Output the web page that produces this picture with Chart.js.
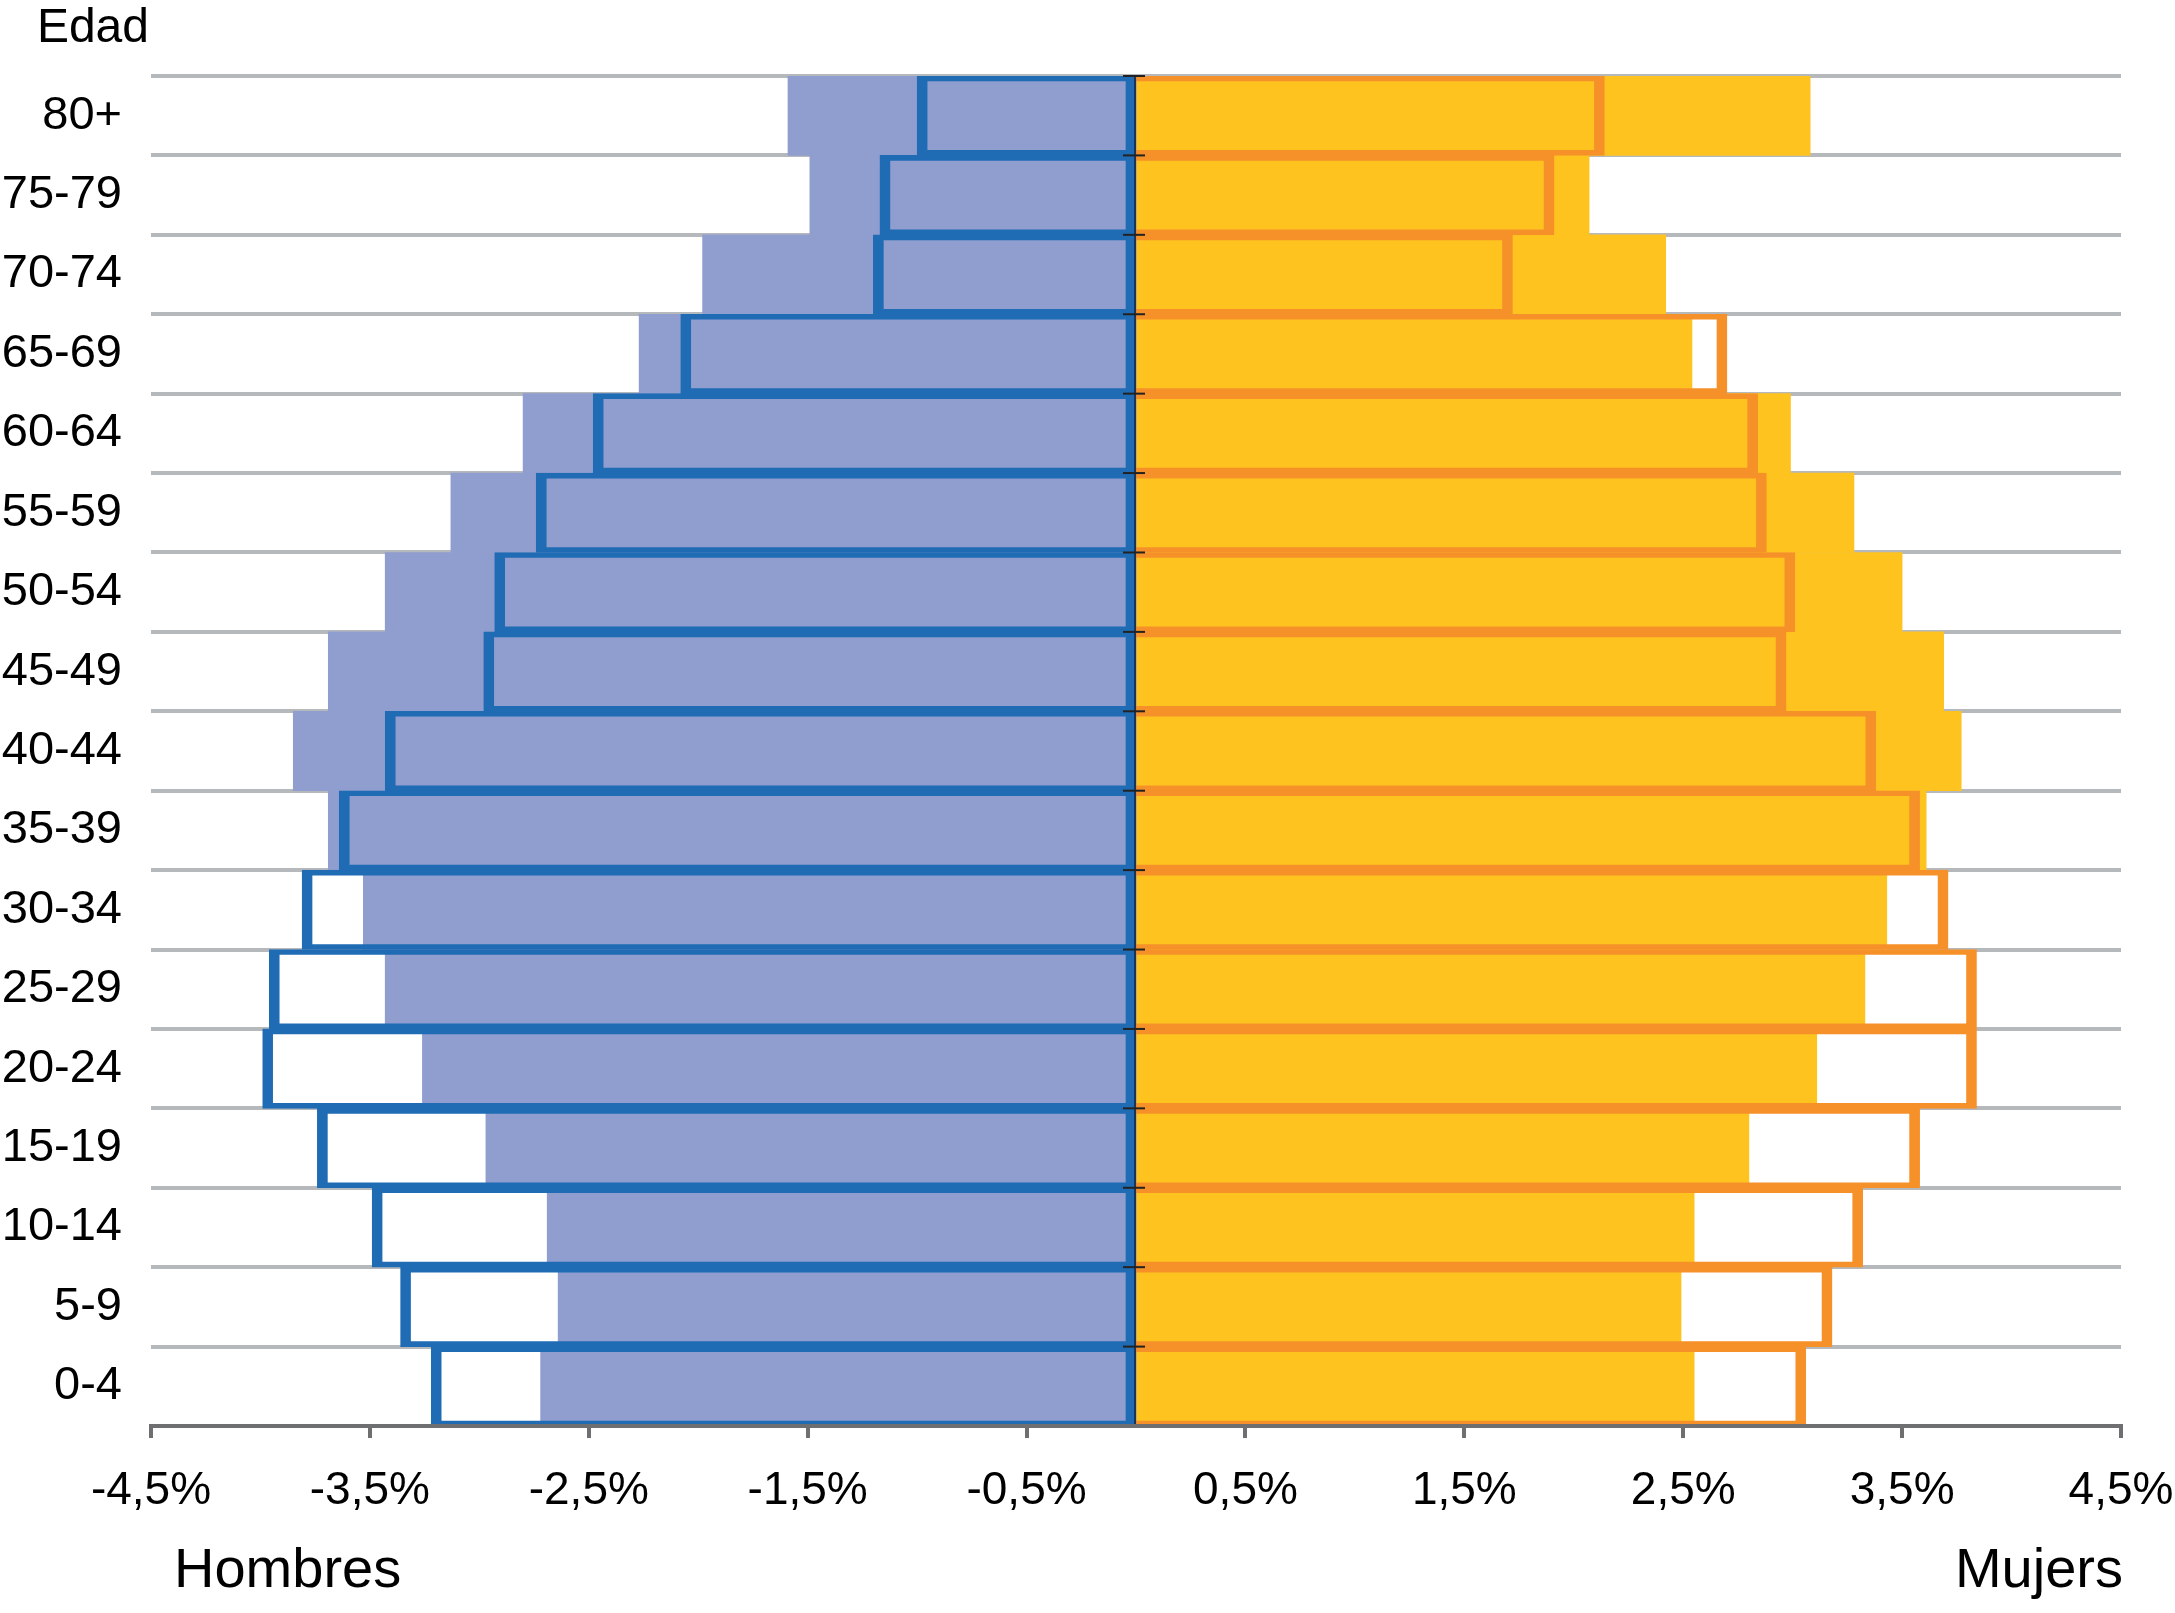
<!DOCTYPE html>
<html>
<head>
<meta charset="utf-8">
<script src="https://cdn.jsdelivr.net/npm/chart.js@4/dist/chart.umd.min.js"></script>
<style>
html,body{margin:0;padding:0;background:#ffffff;}
canvas{display:block;}
</style>
</head>
<body>
<canvas id="c" width="2175" height="1613" style="width:2175px;height:1613px"></canvas>
<script>
// ---- data (top row first) ----
const ageGroups = ['80+','75-79','70-74','65-69','60-64','55-59','50-54','45-49','40-44','35-39','30-34','25-29','20-24','15-19','10-14','5-9','0-4'];
const menFilled    = [-1.59,-1.49,-1.98,-2.27,-2.80,-3.13,-3.43,-3.69,-3.85,-3.69,-3.53,-3.43,-3.26,-2.97,-2.69,-2.64,-2.72];
const menOutline   = [-1.00,-1.17,-1.20,-2.08,-2.48,-2.74,-2.93,-2.98,-3.43,-3.64,-3.81,-3.96,-3.99,-3.74,-3.49,-3.36,-3.22];
const womenFilled  = [3.08,2.07,2.42,2.54,2.99,3.28,3.50,3.69,3.77,3.61,3.43,3.33,3.11,2.80,2.55,2.49,2.55];
const womenOutline = [2.14,1.91,1.72,2.70,2.84,2.88,3.01,2.97,3.38,3.58,3.71,3.84,3.84,3.58,3.32,3.18,3.06];
const xTickValues  = [-4.5,-3.5,-2.5,-1.5,-0.5,0.5,1.5,2.5,3.5,4.5];
const xTickLabels  = ['-4,5%','-3,5%','-2,5%','-1,5%','-0,5%','0,5%','1,5%','2,5%','3,5%','4,5%'];
const yAxisTitle = 'Edad';
const menLabel = 'Hombres';
const womenLabel = 'Mujers';

// ---- styles ----
const FONT = "'Liberation Sans', Arial, Helvetica, sans-serif";
const menFillColor = '#8f9dcf';
const menLineColor = '#1f6cb5';
const womenFillColor = '#fec31f';
const womenLineColor = '#f6912a';
const gridColor = '#b6b9bc';
const axisColor = '#6e6f71';

Chart.defaults.font.family = FONT;

const annotations = {
  id: 'annotations',
  afterDatasetsDraw(chart) {
    const {ctx, chartArea: a, scales: {x, y}} = chart;
    const x0 = x.getPixelForValue(0);
    const step = y.getPixelForValue(1) - y.getPixelForValue(0);
    ctx.save();
    ctx.strokeStyle = '#1b3558';
    ctx.lineWidth = 2;
    ctx.beginPath();
    ctx.moveTo(x0 - 1, a.top);
    ctx.lineTo(x0 - 1, a.bottom);
    ctx.stroke();
    ctx.strokeStyle = '#222222';
    for (let i = 0; i <= ageGroups.length; i++) {
      const yy = y.getPixelForValue(i) - step / 2;
      ctx.beginPath();
      ctx.moveTo(x0 - 13, yy);
      ctx.lineTo(x0 + 9, yy);
      ctx.stroke();
    }
    ctx.restore();
  },
  afterDraw(chart) {
    const {ctx, chartArea: a} = chart;
    ctx.save();
    ctx.fillStyle = '#000000';
    ctx.textBaseline = 'alphabetic';
    ctx.font = '48px ' + FONT;
    ctx.textAlign = 'right';
    ctx.fillText(yAxisTitle, a.left - 2, 42);
    ctx.font = '56px ' + FONT;
    ctx.textAlign = 'left';
    ctx.fillText(menLabel, a.left + 23, 1587);
    ctx.textAlign = 'right';
    ctx.fillText(womenLabel, a.right + 2, 1587);
    ctx.restore();
  }
};

const common = {grouped: false, barPercentage: 1, categoryPercentage: 1};

new Chart(document.getElementById('c'), {
  type: 'bar',
  data: {
    labels: ageGroups,
    datasets: [
      Object.assign({label: menLabel + ' (contorno)', data: menOutline, backgroundColor: 'rgba(0,0,0,0)',
        borderColor: menLineColor, borderWidth: {top: 5, bottom: 5, left: 10, right: 10}, borderSkipped: false, order: 0}, common),
      Object.assign({label: womenLabel + ' (contorno)', data: womenOutline, backgroundColor: 'rgba(0,0,0,0)',
        borderColor: womenLineColor, borderWidth: {top: 5, bottom: 5, left: 0, right: 10}, borderSkipped: false, order: 0}, common),
      Object.assign({label: menLabel, data: menFilled, backgroundColor: menFillColor, borderWidth: 0, order: 1}, common),
      Object.assign({label: womenLabel, data: womenFilled, backgroundColor: womenFillColor, borderWidth: 0, order: 1}, common)
    ]
  },
  options: {
    indexAxis: 'y',
    responsive: false,
    animation: false,
    devicePixelRatio: 1,
    layout: {padding: {top: 76, right: 54, left: 0, bottom: 0}},
    plugins: {legend: {display: false}, tooltip: {enabled: false}},
    scales: {
      x: {
        type: 'linear',
        min: -4.5,
        max: 4.5,
        afterBuildTicks: s => { s.ticks = xTickValues.map(v => ({value: v})); },
        afterFit: s => { s.height = 1613 - 1426; s.paddingLeft = 0; s.paddingRight = 0; },
        ticks: {
          callback: (v, i) => xTickLabels[i],
          font: {size: 46},
          color: '#000000',
          padding: 26,
          maxRotation: 0,
          autoSkip: false
        },
        grid: {display: true, drawOnChartArea: false, drawTicks: true, tickLength: 12, color: axisColor, lineWidth: 4},
        border: {display: true, color: axisColor, width: 4, z: 1}
      },
      y: {
        type: 'category',
        offset: true,
        afterFit: s => { s.width = 151; s.paddingTop = 0; s.paddingBottom = 0; },
        grid: {
          offset: true,
          drawTicks: false,
          lineWidth: 4,
          color: c => (c.type === 'tick' ? gridColor : 'rgba(0,0,0,0)')
        },
        border: {display: false},
        ticks: {font: {size: 47}, color: '#000000', padding: 29, autoSkip: false}
      }
    }
  },
  plugins: [annotations]
});
</script>
</body>
</html>
